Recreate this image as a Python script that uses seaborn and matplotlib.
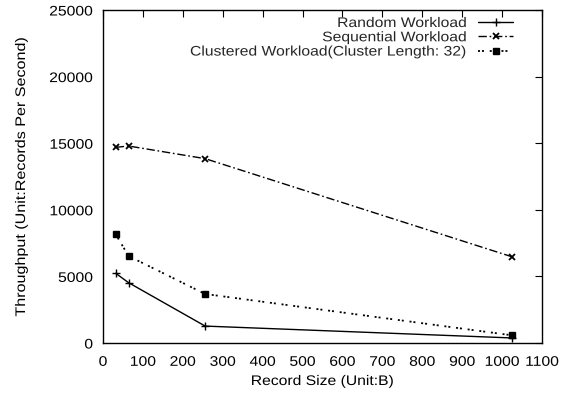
import matplotlib
matplotlib.use("Agg")
import matplotlib.pyplot as plt
import seaborn as sns
import pandas as pd
from matplotlib.patheffects import AbstractPathEffect
from matplotlib.transforms import Affine2D

record_size = [32, 64, 256, 1024]
random_tp = [5230, 4530, 1270, 380]
sequential_tp = [14690, 14790, 13840, 6480]
clustered_tp = [8160, 6530, 3680, 580]
labels = ["Random Workload", "Sequential Workload", "Clustered Workload(Cluster Length: 32)"]
xticks = list(range(0, 1101, 100))
yticks = list(range(0, 25001, 5000))


class HStretch(AbstractPathEffect):
    """Stretch text glyphs along the writing direction around an anchor."""
    def __init__(self, sx=1.13, frac=0.5):
        super().__init__()
        self.sx = sx
        self.frac = frac

    def draw_path(self, renderer, gc, tpath, affine, rgbFace=None):
        if len(tpath.vertices):
            ext = tpath.get_extents()
            a = ext.x0 + self.frac * ext.width
        else:
            a = 0
        local = Affine2D().translate(-a, 0).scale(self.sx, 1).translate(a, 0)
        renderer.draw_path(gc, tpath, local + affine, rgbFace)


sns.set_theme(style="white")
plt.rcParams['font.family'] = ['Liberation Sans', 'DejaVu Sans']
FS = 10
SX = 1.13

fig = plt.figure(figsize=(5.61, 3.94), dpi=100)
ax = fig.add_axes([103/561, 1-343/394, (542-103)/561, (343-10)/394])

styles = [
    dict(linestyle="-", marker="+", markersize=6, mew=1.0, linewidth=1.0),
    dict(dashes=(6, 2, 1.2, 2), marker="x", markersize=5, mew=1.3, linewidth=1.0),
    dict(dashes=(1.1, 1.1, 1.1, 3.2), marker="s", markersize=4, mew=1.0, linewidth=1.3),
]
for yv, lab, st in zip([random_tp, sequential_tp, clustered_tp], labels, styles):
    df = pd.DataFrame({"x": record_size, "y": yv})
    sns.lineplot(data=df, x="x", y="y", ax=ax, color="black",
                 label=lab, markeredgecolor="black", **st)

ax.set_xlim(0, 1100)
ax.set_ylim(0, 25000)
ax.set_xticks(xticks)
ax.set_yticks(yticks)
ax.tick_params(direction="in", length=5, width=0.8, top=True, right=True,
               labelsize=FS, colors="black")
ax.tick_params(axis="x", pad=8.5)
ax.tick_params(axis="y", pad=7.2)
for s in ax.spines.values():
    s.set_color("black")
    s.set_linewidth(1.0)

for t in ax.get_xticklabels():
    t.set_path_effects([HStretch(SX, 0.5)])
for t in ax.get_yticklabels():
    t.set_path_effects([HStretch(SX, 1.0)])

xl = ax.set_xlabel("Record Size (Unit:B)", fontsize=FS, color="black")
yl = ax.set_ylabel("Throughput (Unit:Records Per Second)", fontsize=FS, color="black")
xl.set_path_effects([HStretch(SX, 0.5)])
yl.set_path_effects([HStretch(1.16, 0.5)])
ax.xaxis.set_label_coords(0.5, (343 - 374) / 333)
ax.yaxis.set_label_coords((28 - 103) / 439, 0.5)
xl.set_va("top")
yl.set_va("bottom")

leg = ax.legend(loc="upper right", frameon=False, markerfirst=False, fontsize=FS,
                handlelength=2.5, handletextpad=0.8, labelspacing=0.02,
                borderpad=0, borderaxespad=0,
                bbox_to_anchor=((513 - 103) / 439, (343 - 16) / 333))
for t in leg.get_texts():
    t.set_path_effects([HStretch(SX, 1.0)])

fig.savefig("out.png", dpi=100)
